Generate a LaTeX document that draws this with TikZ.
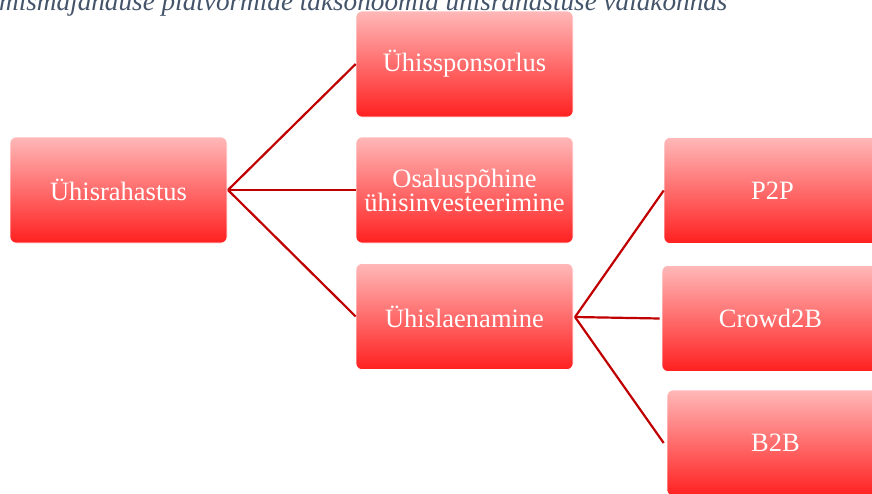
\documentclass[tikz,border=0pt]{standalone}
\usepackage{fontspec}
\setmainfont{Liberation Serif}
\definecolor{linkred}{RGB}{192,0,0}
\definecolor{boxtop}{RGB}{255,184,184}
\definecolor{boxbot}{RGB}{255,32,32}
\definecolor{captioncol}{RGB}{68,84,106}
\begin{document}
\begin{tikzpicture}[x=1pt,y=-1pt,
  box/.style={rectangle, rounded corners=6pt, minimum width=217pt, minimum height=106pt,
    top color=boxtop, bottom color=boxbot, draw=white, line width=0.6pt,
    text=white, font=\fontsize{26.5}{27}\selectfont, align=center, inner sep=2pt},
  link/.style={draw=linkred, line width=2.2pt}]
\useasboundingbox (0,0) rectangle (872,493);
\clip (0,0) rectangle (872,493);
\node[anchor=base west, text=captioncol, font=\fontsize{27.2}{29}\selectfont\itshape, inner sep=0pt] (cap) at (-1,10) {mismajanduse platvormide taksonoomia ühisrahastuse valdkonnas};
\node[box] (root) at (118.5,190) {Ühisrahastus};
\node[box] (spons) at (464.5,64) {Ühissponsorlus};
\node[box] (osal) at (464.5,190) {Osaluspõhine\\[-3pt]ühisinvesteerimine};
\node[box] (laen) at (464.5,316.5) {Ühislaenamine};
\node[box] (p2p) at (772.5,190.5) {P2P};
\node[box] (c2b) at (770.5,318.5) {Crowd2B};
\node[box] (b2b) at (775.5,443) {B2B};
\coordinate (rootR) at (228,190);
\coordinate (laenR) at (575,317);
\draw[link] (rootR) -- (spons.west);
\draw[link] (rootR) -- (osal.west);
\draw[link] (rootR) -- (laen.west);
\draw[link] (laenR) -- (p2p.west);
\draw[link] (laenR) -- ([xshift=-2pt]c2b.west);
\draw[link] (laenR) -- ([xshift=-3pt]b2b.west);
\end{tikzpicture}
\end{document}
